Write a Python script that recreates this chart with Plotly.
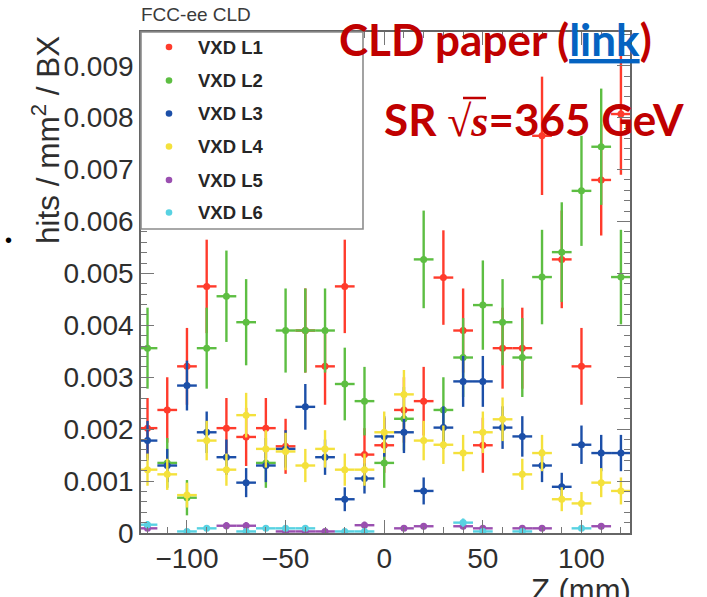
import plotly.graph_objects as go

# ---------------- data (hits / mm^2 / BX, in units of 1e-3) ----------------
z_mm = [-120, -110, -100, -90, -80, -70, -60, -50, -40, -30, -20, -10, 0,
        10, 20, 30, 40, 50, 60, 70, 80, 90, 100, 110, 120]

layers = ["VXD L1", "VXD L2", "VXD L3", "VXD L4", "VXD L5", "VXD L6"]

vxd_l1 = [2.02, 2.37, 3.21, 4.75, 2.02, 1.85, 2.02, 1.67, 3.90, 3.21, 4.75, 1.51, 1.69,
          2.37, 2.54, 4.92, 3.90, 1.69, 3.56, 3.56, 7.65, 5.27, 3.21, 6.80, 8.07]
vxd_l1_err = [0.58, 0.63, 0.74, 0.90, 0.58, 0.56, 0.58, 0.53, 0.81, 0.74, 0.90, 0.51, 0.53,
              0.63, 0.66, 0.91, 0.81, 0.53, 0.78, 0.78, 1.14, 0.94, 0.74, 1.07, 1.17]

vxd_l2 = [3.56, 1.35, 0.68, 3.56, 4.56, 4.06, 1.35, 3.90, 3.90, 3.90, 2.87, 2.54, 1.35,
          2.20, 5.27, 2.37, 3.38, 4.39, 4.06, 3.38, 4.93, 5.41, 6.59, 7.44, 4.93]
vxd_l2_err = [0.78, 0.48, 0.34, 0.78, 0.88, 0.83, 0.48, 0.81, 0.81, 0.81, 0.70, 0.66, 0.48,
              0.61, 0.94, 0.63, 0.76, 0.86, 0.83, 0.76, 0.91, 0.96, 1.06, 1.12, 0.91]

vxd_l3 = [1.78, 1.30, 2.84, 1.94, 1.46, 0.97, 1.30, 1.62, 2.43, 1.46, 0.65, 1.05, 1.86,
          1.94, 0.81, 2.03, 2.92, 2.92, 2.03, 1.86, 1.30, 0.89, 1.70, 1.54, 1.54]
vxd_l3_err = [0.38, 0.32, 0.48, 0.40, 0.34, 0.28, 0.32, 0.36, 0.44, 0.34, 0.23, 0.29, 0.39,
              0.40, 0.26, 0.41, 0.49, 0.49, 0.41, 0.39, 0.32, 0.27, 0.37, 0.35, 0.35]

vxd_l4 = [1.22, 1.13, 0.73, 1.78, 1.22, 2.27, 1.62, 1.57, 1.30, 1.62, 1.22, 1.22, 1.94,
          2.67, 1.78, 1.70, 1.54, 1.94, 2.19, 1.13, 1.54, 0.65, 0.57, 0.97, 0.81]
vxd_l4_err = [0.31, 0.30, 0.24, 0.38, 0.31, 0.43, 0.36, 0.36, 0.32, 0.36, 0.31, 0.31, 0.40,
              0.47, 0.38, 0.37, 0.35, 0.40, 0.42, 0.30, 0.35, 0.23, 0.22, 0.28, 0.26]

vxd_l5 = [0.09, None, None, None, 0.14, 0.14, None, 0.03, 0.03, 0.03, None, 0.15, None,
          0.09, 0.13, None, 0.13, 0.09, None, 0.09, 0.09, None, None, 0.13, None]
vxd_l5_err = [0.05, None, None, None, 0.07, 0.07, None, 0.03, 0.03, 0.03, None, 0.07, None,
              0.05, 0.06, None, 0.06, 0.05, None, 0.05, 0.05, None, None, 0.06, None]

vxd_l6 = [0.16, None, 0.03, 0.09, None, 0.03, 0.09, 0.09, 0.09, None, 0.03, 0.03, None,
          None, None, None, 0.20, 0.03, None, 0.03, None, None, 0.09, None, None]
vxd_l6_err = [0.07, None, 0.03, 0.05, None, 0.03, 0.05, 0.05, 0.05, None, 0.03, 0.03, None,
              None, None, None, 0.08, 0.03, None, 0.03, None, None, 0.05, None, None]

bin_half_width = 5

y_tickvals = [0, 1, 2, 3, 4, 5, 6, 7, 8, 9]
y_ticktext = ["0", "0.001", "0.002", "0.003", "0.004", "0.005", "0.006", "0.007", "0.008", "0.009"]
x_tickvals = [-100, -50, 0, 50, 100]
x_ticktext = ["\u2212100", "\u221250", "0", "50", "100"]

# ---------------- style ----------------
colors = ["#ff3b2c", "#5dbe42", "#1c4fa8", "#f4e13c", "#9a4fb0", "#58d2e2"]
series = [(vxd_l1, vxd_l1_err), (vxd_l2, vxd_l2_err), (vxd_l3, vxd_l3_err),
          (vxd_l4, vxd_l4_err), (vxd_l5, vxd_l5_err), (vxd_l6, vxd_l6_err)]

W, H = 707, 597
L, R, T, B = 141, 630, 32, 533


def px(x):
    return (x - L) / (R - L)


def py(y):
    return (B - y) / (B - T)


fig = go.Figure()
for name, col, (vals, errs) in zip(layers, colors, series):
    fig.add_trace(go.Scatter(
        x=z_mm, y=vals, name=name, mode="markers",
        marker=dict(color=col, size=7),
        error_y=dict(type="data", array=errs, color=col, thickness=2.4, width=0),
        error_x=dict(type="constant", value=bin_half_width, color=col, thickness=2.4, width=0),
        showlegend=False, cliponaxis=True,
    ))

axis_font = dict(family="Liberation Sans, Arial, sans-serif", size=28, color="#2e2e2e")

fig.update_xaxes(
    range=[-123.3, 124.6], showgrid=False, zeroline=False,
    showline=True, linecolor="#666", linewidth=1.6, mirror="allticks",
    ticks="inside", ticklen=13, tickwidth=1.4, tickcolor="#777",
    tickmode="array", tickvals=x_tickvals, ticktext=x_ticktext,
    tickfont=axis_font,
    minor=dict(tickmode="linear", tick0=0, dtick=10, ticks="inside", ticklen=6,
               tickwidth=1.2, tickcolor="#777"),
)
fig.update_yaxes(
    range=[0, 9.65], showgrid=False, zeroline=False,
    showline=True, linecolor="#666", linewidth=1.6, mirror="allticks",
    ticks="inside", ticklen=13, tickwidth=1.4, tickcolor="#777",
    tickmode="array", tickvals=y_tickvals, ticktext=y_ticktext,
    tickfont=axis_font,
    minor=dict(tickmode="linear", tick0=0, dtick=0.2, ticks="inside", ticklen=6,
               tickwidth=1.2, tickcolor="#777"),
)

shapes = []
annotations = []

# legend box
shapes.append(dict(type="rect", xref="paper", yref="paper",
                   x0=px(141), x1=px(363), y0=py(229), y1=py(32),
                   fillcolor="white", line=dict(color="#8c8c8c", width=1.6), layer="above"))
row_y = [47, 80.5, 113.5, 146.5, 180, 212.5]
for name, col, ry in zip(layers, colors, row_y):
    r = 3.3
    shapes.append(dict(type="circle", xref="paper", yref="paper",
                       x0=px(169 - r), x1=px(169 + r), y0=py(ry + r), y1=py(ry - r),
                       fillcolor=col, line=dict(color=col, width=0), layer="above"))
    annotations.append(dict(xref="paper", yref="paper", x=px(196), y=py(ry),
                            xanchor="left", yanchor="middle", showarrow=False,
                            text="<b>" + name + "</b>",
                            font=dict(family="Liberation Sans, Arial, sans-serif",
                                      size=18.5, color="#262626")))

# header
annotations.append(dict(xref="paper", yref="paper", x=px(139), y=py(15),
                        xanchor="left", yanchor="middle", showarrow=False,
                        text="FCC-ee CLD",
                        font=dict(family="Liberation Sans, Arial, sans-serif",
                                  size=19, color="#3a3a3a")))

# axis titles
annotations.append(dict(xref="paper", yref="paper", x=px(46), y=py(140),
                        xanchor="center", yanchor="middle", showarrow=False, textangle=-90,
                        text="hits / mm<sup>2</sup> / BX",
                        font=dict(family="Liberation Sans, Arial, sans-serif",
                                  size=31.5, color="#2e2e2e")))
annotations.append(dict(xref="paper", yref="paper", x=px(633), y=py(571),
                        xanchor="right", yanchor="top", showarrow=False,
                        text="Z (mm)",
                        font=dict(family="Liberation Sans, Arial, sans-serif",
                                  size=31, color="#2e2e2e")))

# bullet
annotations.append(dict(xref="paper", yref="paper", x=px(8), y=py(240),
                        xanchor="center", yanchor="middle", showarrow=False,
                        text="\u2022", font=dict(family="Liberation Sans", size=20, color="black")))

# slide annotations
red = "#c00000"
annotations.append(dict(xref="paper", yref="paper", x=px(337), y=py(39),
                        xanchor="left", yanchor="middle", showarrow=False,
                        text="<b>CLD paper (<span style='color:#0563c1'><u>link</u></span>)</b>",
                        font=dict(family="Lato, sans-serif", size=44, color=red)))
annotations.append(dict(xref="paper", yref="paper", x=px(382), y=py(119),
                        xanchor="left", yanchor="middle", showarrow=False,
                        text="<b>SR <span style='font-family:Liberation Serif'>\u221a<i>s</i></span>=365 GeV</b>",
                        font=dict(family="Lato, sans-serif", size=44, color=red)))
# overline of the square root
shapes.append(dict(type="line", xref="paper", yref="paper",
                   x0=px(463), x1=px(486), y0=py(98), y1=py(98),
                   line=dict(color=red, width=2.5), layer="above"))

fig.update_layout(
    width=W, height=H,
    margin=dict(l=L, r=W - R, t=T, b=H - B, pad=0),
    paper_bgcolor="white", plot_bgcolor="white",
    shapes=shapes, annotations=annotations, showlegend=False,
)

fig.write_html("out.html")
